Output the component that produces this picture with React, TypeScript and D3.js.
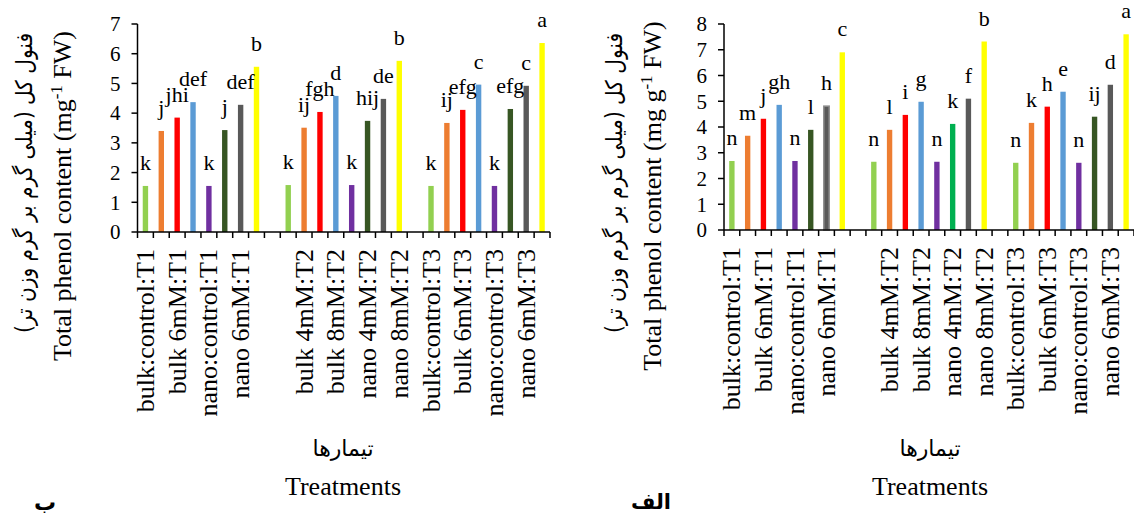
import React, { useEffect, useRef } from 'react';
import * as d3 from 'd3';

// treatments inside each sampling time, and the times
const treatments = ['bulk:control', 'bulk 4mM', 'bulk 6mM', 'bulk 8mM', 'nano:control', 'nano 4mM', 'nano 6mM', 'nano 8mM'];
const periods = ['T1', 'T2', 'T3'];
const baseColors = ['#92d050', '#ed7d31', '#ff0000', '#5b9bd5', '#7030a0', '#375623', '#595959', '#ffff00'];

// panel ب (left), mg/FW
const valuesB = [1.55, 3.40, 3.85, 4.37, 1.55, 3.43, 4.28, 5.56, 1.58, 3.51, 4.04, 4.58, 1.58, 3.74, 4.48, 5.76, 1.55, 3.67, 4.11, 4.96, 1.55, 4.14, 4.92, 6.36];
const lettersB = ['k', 'j', 'jhi', 'def', 'k', 'j', 'def', 'b', 'k', 'ij', 'fgh', 'd', 'k', 'hij', 'de', 'b', 'k', 'ij', 'efg', 'c', 'k', 'efg', 'c', 'a'];
const ticksB = [0, 1, 2, 3, 4, 5, 6, 7];

// panel الف (right), mg g-1 FW
const valuesA = [2.68, 3.66, 4.32, 4.86, 2.68, 3.89, 4.81, 6.90, 2.65, 3.89, 4.47, 4.98, 2.65, 4.12, 5.10, 7.32, 2.61, 4.16, 4.79, 5.37, 2.61, 4.40, 5.64, 7.60];
const lettersA = ['n', 'm', 'j', 'gh', 'n', 'l', 'h', 'c', 'n', 'l', 'i', 'g', 'n', 'k', 'f', 'b', 'n', 'k', 'h', 'e', 'n', 'ij', 'd', 'a'];
const ticksA = [0, 1, 2, 3, 4, 5, 6, 7, 8];

const serif = '"Liberation Serif", "DejaVu Serif", serif';
const persian = '"DejaVu Sans", sans-serif';

// slots on the x axis: 8 bars per time, one empty slot between times
const slots: { key: string; text: string; bar: number }[] = [];
periods.forEach((p, pi) => {
  treatments.forEach((t, ti) => slots.push({ key: `${t}:${p}`, text: `${t}:${p}`, bar: pi * 8 + ti }));
  if (pi < periods.length - 1) slots.push({ key: `gap${pi}`, text: '', bar: -1 });
});

const drawPanel = (svg: any, cfg: any) => {
  const { x0, x1, y0, yTop, ticks, values, letters, colors, strokes, titleX, unit, xTitleX } = cfg;
  const max = ticks[ticks.length - 1];

  const x = d3.scaleBand().domain(slots.map((s) => s.key)).range([x0, x1]).paddingInner(0.66).paddingOuter(0.33);
  const y = d3.scaleLinear().domain([0, max]).range([y0, yTop]);
  const step = x.step();
  const g = svg.append('g');

  // bars
  const bars = slots.filter((s) => s.bar >= 0);
  g.selectAll('rect.bar')
    .data(bars)
    .enter()
    .append('rect')
    .attr('x', (d: any) => x(d.key))
    .attr('width', x.bandwidth())
    .attr('y', (d: any) => y(values[d.bar]))
    .attr('height', (d: any) => y0 - y(values[d.bar]))
    .attr('fill', (d: any) => colors[d.bar])
    .attr('stroke', (d: any) => strokes[d.bar] || 'none')
    .attr('stroke-width', 1.5);

  // significance letters
  g.selectAll('text.letter')
    .data(bars)
    .enter()
    .append('text')
    .attr('x', (d: any) => (x(d.key) as number) + x.bandwidth() / 2)
    .attr('y', (d: any) => y(values[d.bar]) - 16)
    .attr('text-anchor', 'middle')
    .style('font-family', serif)
    .attr('font-size', 22)
    .text((d: any) => letters[d.bar]);

  // y axis
  g.append('line').attr('x1', x0).attr('x2', x0).attr('y1', y0).attr('y2', y(max)).attr('stroke', '#000').attr('stroke-width', 1.5);
  ticks.forEach((t: number) => {
    g.append('line').attr('x1', x0 - 6).attr('x2', x0).attr('y1', y(t)).attr('y2', y(t)).attr('stroke', '#000').attr('stroke-width', 1.5);
    g.append('text')
      .attr('x', x0 - 17)
      .attr('y', y(t))
      .attr('dy', '0.35em')
      .attr('text-anchor', 'end')
      .style('font-family', serif)
      .attr('font-size', 21)
      .text(t);
  });

  // x axis with ticks at slot boundaries
  g.append('line').attr('x1', x0).attr('x2', x1).attr('y1', y0).attr('y2', y0).attr('stroke', '#000').attr('stroke-width', 1.5);
  d3.range(slots.length + 1).forEach((i) => {
    const tx = x0 + i * step;
    g.append('line').attr('x1', tx).attr('x2', tx).attr('y1', y0).attr('y2', y0 + 6).attr('stroke', '#000').attr('stroke-width', 1.5);
  });
  slots.forEach((s, i) => {
    if (i % 2 !== 0 || !s.text) return;
    const cx = (x(s.key) as number) + x.bandwidth() / 2;
    g.append('text')
      .attr('transform', `translate(${cx},${y0 + 17}) rotate(-90)`)
      .attr('dy', '0.33em')
      .attr('text-anchor', 'end')
      .style('font-family', serif)
      .attr('font-size', 26)
      .text(s.text);
  });

  // y axis title, two lines
  g.append('text')
    .attr('transform', `translate(${titleX},183) rotate(-90)`)
    .attr('dy', '0.35em')
    .attr('text-anchor', 'middle')
    .style('font-family', persian)
    .attr('font-size', 23)
    .attr('textLength', 300)
    .attr('lengthAdjust', 'spacingAndGlyphs')
    .text('فنول کل (میلی گرم بر گرم وزن تر)');
  const en = g.append('text')
    .attr('transform', `translate(${titleX + 38},196) rotate(-90)`)
    .attr('dy', '0.35em')
    .attr('text-anchor', 'middle')
    .style('font-family', serif)
    .attr('font-size', 26);
  en.append('tspan').text(`Total phenol content (${unit}`);
  en.append('tspan').attr('baseline-shift', 'super').attr('font-size', 17).text('-1');
  en.append('tspan').text(' FW)');

  // x axis title
  g.append('text')
    .attr('x', xTitleX)
    .attr('y', 456)
    .attr('text-anchor', 'middle')
    .style('font-family', persian)
    .attr('font-size', 22)
    .text('تیمارها');
  g.append('text')
    .attr('x', xTitleX)
    .attr('y', 495)
    .attr('text-anchor', 'middle')
    .style('font-family', serif)
    .attr('font-size', 26)
    .text('Treatments');
};

const App = () => {
  const svgRef = useRef(null);

  useEffect(() => {
    const svg = d3.select(svgRef.current);
    svg.selectAll('*').remove();

    const colorsB = valuesB.map((_, i) => baseColors[i % 8]);
    const colorsA = valuesA.map((_, i) => (i === 13 ? '#00b050' : baseColors[i % 8]));
    const strokesA = valuesA.map((_, i) => (i === 6 ? '#8c8c8c' : ''));

    drawPanel(svg, {
      x0: 137.5, x1: 550, y0: 232, yTop: 24,
      ticks: ticksB, values: valuesB, letters: lettersB, colors: colorsB, strokes: [],
      titleX: 24, unit: 'mg', xTitleX: 343,
    });
    drawPanel(svg, {
      x0: 724, x1: 1134, y0: 230, yTop: 24,
      ticks: ticksA, values: valuesA, letters: lettersA, colors: colorsA, strokes: strokesA,
      titleX: 614, unit: 'mg g', xTitleX: 930,
    });

    // panel captions
    svg.append('text').attr('x', 45).attr('y', 510).attr('text-anchor', 'middle')
      .style('font-family', persian).attr('font-weight', 'bold').attr('font-size', 22).text('ب');
    svg.append('text').attr('x', 651).attr('y', 509).attr('text-anchor', 'middle')
      .style('font-family', persian).attr('font-weight', 'bold').attr('font-size', 21).text('الف');
  }, []);

  return (
    <svg ref={svgRef} width={1134} height={513} style={{ position: 'absolute', left: 0, top: 0, background: '#fff' }} />
  );
};

export default App;
